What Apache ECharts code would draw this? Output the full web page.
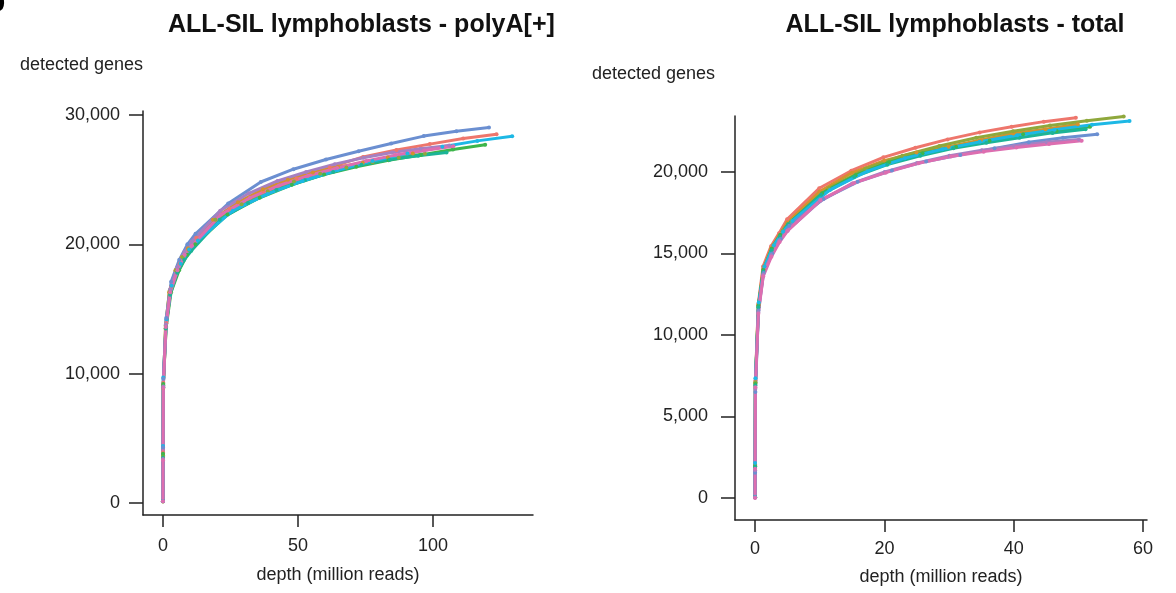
<!DOCTYPE html>
<html>
<head>
<meta charset="utf-8">
<script src="https://cdn.jsdelivr.net/npm/echarts@6/dist/echarts.min.js"></script>
<style>
    html, body { margin: 0; padding: 0; background: #fff; }
    #chart { width: 1176px; height: 593px; }
</style>
</head>
<body>
<div id="chart"></div>
<script>
// tick labels
var polyaXTicks = [0, 50, 100];
var polyaYTicks = [0, 10000, 20000, 30000];
var totalXTicks = [0, 20, 40, 60];
var totalYTicks = [0, 5000, 10000, 15000, 20000];

// sample colours (same order in both panels)
var sampleColors = ['#ee766c', '#d3912e', '#8fa83c', '#3db54b', '#1cb497', '#1db8e5', '#6b8fd1', '#a680c2', '#dd6eb0'];

// polyA[+] panel: depth (million reads) and detected genes per sample
var polyaRedDepth = [0.0001, 0.012, 0.12, 1.24, 3.09, 6.18, 9.26, 12.35, 24.7, 37.05, 49.4, 61.75, 74.1, 86.45, 98.8, 111.15, 123.5];
var polyaRedGenes = [150, 3900, 9300, 13900, 16700, 18500, 19600, 20500, 22750, 24100, 25100, 25950, 26760, 27300, 27750, 28190, 28520];
var polyaOrangeDepth = [0.0001, 0.009, 0.09, 0.93, 2.31, 4.63, 6.94, 9.25, 18.5, 27.75, 37, 46.25, 55.5, 64.75, 74, 83.25, 92.5];
var polyaOrangeGenes = [120, 3600, 8900, 13500, 16300, 18000, 19000, 19700, 21900, 23250, 24250, 25000, 25550, 25990, 26300, 26710, 27020];
var polyaOliveDepth = [0.0001, 0.0097, 0.097, 0.97, 2.43, 4.85, 7.28, 9.7, 19.4, 29.1, 38.8, 48.5, 58.2, 67.9, 77.6, 87.3, 97];
var polyaOliveGenes = [130, 3700, 9100, 13700, 16400, 18000, 19000, 19550, 21900, 23100, 24100, 24850, 25450, 25950, 26350, 26700, 27000];
var polyaGreenDepth = [0.0001, 0.012, 0.12, 1.19, 2.98, 5.97, 8.95, 11.93, 23.86, 35.79, 47.72, 59.65, 71.58, 83.51, 95.44, 107.37, 119.3];
var polyaGreenGenes = [140, 3800, 9200, 13600, 16300, 18000, 19200, 20000, 22300, 23600, 24600, 25400, 26000, 26500, 26900, 27330, 27700];
var polyaTealDepth = [0.0001, 0.0105, 0.105, 1.05, 2.63, 5.25, 7.88, 10.5, 21, 31.5, 42, 52.5, 63, 73.5, 84, 94.5, 105];
var polyaTealGenes = [130, 3500, 8950, 13500, 16100, 17800, 18800, 19500, 21900, 23200, 24200, 24950, 25600, 26150, 26550, 26850, 27100];
var polyaCyanDepth = [0.0001, 0.0129, 0.129, 1.29, 3.23, 6.47, 9.7, 12.93, 25.86, 38.79, 51.72, 64.65, 77.58, 90.51, 103.44, 116.37, 129.3];
var polyaCyanGenes = [160, 4400, 9700, 14200, 16800, 18500, 19600, 20300, 22600, 23900, 24900, 25750, 26450, 27030, 27540, 28000, 28360];
var polyaBlueDepth = [0.0001, 0.0121, 0.121, 1.21, 3.02, 6.04, 9.05, 12.07, 24.14, 36.21, 48.28, 60.35, 72.42, 84.49, 96.56, 108.63, 120.7];
var polyaBlueGenes = [160, 4300, 9600, 14300, 17100, 18800, 20000, 20820, 23150, 24820, 25810, 26560, 27200, 27800, 28370, 28750, 29040];
var polyaPurpleDepth = [0.0001, 0.0106, 0.106, 1.06, 2.65, 5.3, 7.95, 10.6, 21.2, 31.8, 42.4, 53, 63.6, 74.2, 84.8, 95.4, 106];
var polyaPurpleGenes = [140, 3400, 9000, 13800, 16500, 18200, 19400, 20200, 22600, 23950, 24900, 25600, 26200, 26700, 27100, 27400, 27650];
var polyaPinkDepth = [0.0001, 0.0108, 0.108, 1.08, 2.69, 5.38, 8.06, 10.75, 21.5, 32.25, 43, 53.75, 64.5, 75.25, 86, 96.75, 107.5];
var polyaPinkGenes = [130, 3300, 8900, 13600, 16300, 18000, 19200, 19900, 22300, 23600, 24550, 25300, 25900, 26450, 26900, 27250, 27590];

// total RNA panel
var totalRedDepth = [0.0005, 0.005, 0.05, 0.5, 1.24, 2.48, 3.72, 4.96, 9.92, 14.88, 19.84, 24.8, 29.76, 34.72, 39.68, 44.64, 49.6];
var totalRedGenes = [60, 2050, 7200, 11900, 14200, 15450, 16250, 17100, 19000, 20080, 20900, 21490, 22000, 22430, 22780, 23090, 23330];
var totalOrangeDepth = [0.0005, 0.005, 0.05, 0.5, 1.25, 2.5, 3.74, 4.99, 9.98, 14.97, 19.96, 24.95, 29.94, 34.93, 39.92, 44.91, 49.9];
var totalOrangeGenes = [50, 1950, 7050, 11800, 14000, 15300, 16100, 16900, 18800, 19950, 20700, 21200, 21550, 21960, 22370, 22620, 22930];
var totalOliveDepth = [0.0006, 0.0057, 0.057, 0.57, 1.43, 2.85, 4.28, 5.7, 11.4, 17.1, 22.8, 28.5, 34.2, 39.9, 45.6, 51.3, 57];
var totalOliveGenes = [60, 2000, 7100, 11900, 14200, 15500, 16400, 17000, 19000, 20200, 21000, 21600, 22100, 22500, 22850, 23150, 23400];
var totalGreenDepth = [0.0005, 0.0052, 0.052, 0.52, 1.3, 2.59, 3.89, 5.18, 10.36, 15.54, 20.72, 25.9, 31.08, 36.26, 41.44, 46.62, 51.8];
var totalGreenGenes = [50, 1950, 7000, 11800, 14000, 15300, 16150, 16800, 18700, 19800, 20600, 21150, 21550, 21920, 22310, 22520, 22780];
var totalTealDepth = [0.0005, 0.0051, 0.051, 0.51, 1.28, 2.56, 3.83, 5.11, 10.22, 15.33, 20.44, 25.55, 30.66, 35.77, 40.88, 45.99, 51.1];
var totalTealGenes = [40, 1900, 6900, 11700, 13900, 15200, 16050, 16800, 18600, 19700, 20450, 21000, 21450, 21800, 22100, 22400, 22620];
var totalCyanDepth = [0.0006, 0.0058, 0.058, 0.58, 1.45, 2.9, 4.34, 5.79, 11.58, 17.37, 23.16, 28.95, 34.74, 40.53, 46.32, 52.11, 57.9];
var totalCyanGenes = [70, 2150, 7350, 12000, 14200, 15500, 16350, 17000, 18900, 20050, 20850, 21400, 21850, 22250, 22600, 22900, 23130];
var totalBlueDepth = [0.0005, 0.0053, 0.053, 0.53, 1.32, 2.65, 3.97, 5.29, 10.58, 15.87, 21.16, 26.45, 31.74, 37.03, 42.32, 47.61, 52.9];
var totalBlueGenes = [30, 1550, 6500, 11500, 13800, 15000, 15900, 16700, 18350, 19400, 20100, 20650, 21050, 21450, 21830, 22100, 22310];
var totalPurpleDepth = [0.0005, 0.005, 0.05, 0.5, 1.25, 2.51, 3.76, 5.01, 10.02, 15.03, 20.04, 25.05, 30.06, 35.07, 40.08, 45.09, 50.1];
var totalPurpleGenes = [40, 1700, 6700, 11400, 13700, 14900, 15800, 16400, 18200, 19300, 20000, 20550, 21000, 21330, 21600, 21820, 22000];
var totalPinkDepth = [0.0005, 0.0051, 0.051, 0.51, 1.26, 2.53, 3.79, 5.05, 10.1, 15.15, 20.2, 25.25, 30.3, 35.35, 40.4, 45.45, 50.5];
var totalPinkGenes = [0, 1800, 6800, 11300, 13600, 14800, 15700, 16400, 18280, 19300, 19960, 20530, 20950, 21250, 21500, 21720, 21920];

var polyaSamples = [
    [polyaRedDepth, polyaRedGenes], [polyaOrangeDepth, polyaOrangeGenes], [polyaOliveDepth, polyaOliveGenes],
    [polyaGreenDepth, polyaGreenGenes], [polyaTealDepth, polyaTealGenes], [polyaCyanDepth, polyaCyanGenes],
    [polyaBlueDepth, polyaBlueGenes], [polyaPurpleDepth, polyaPurpleGenes], [polyaPinkDepth, polyaPinkGenes]
];
var totalSamples = [
    [totalRedDepth, totalRedGenes], [totalOrangeDepth, totalOrangeGenes], [totalOliveDepth, totalOliveGenes],
    [totalGreenDepth, totalGreenGenes], [totalTealDepth, totalTealGenes], [totalCyanDepth, totalCyanGenes],
    [totalBlueDepth, totalBlueGenes], [totalPurpleDepth, totalPurpleGenes], [totalPinkDepth, totalPinkGenes]
];

var fontFamily = '"Liberation Sans", Arial, sans-serif';
var axisColor = '#222';

function makeSeries(sample, idx, axisIndex) {
    var color = sampleColors[idx];
    return {
        type: 'line',
        xAxisIndex: axisIndex,
        yAxisIndex: axisIndex,
        data: sample[0].map(function (d, i) { return [d, sample[1][i]]; }),
        symbol: 'circle',
        symbolSize: 4,
        lineStyle: { width: 3, color: color },
        itemStyle: { color: color },
        emphasis: { disabled: true }
    };
}

function makeXAxis(gridIndex, min, max, ticks, margin, nameGap) {
    return {
        type: 'value', gridIndex: gridIndex, min: min, max: max,
        name: 'depth (million reads)', nameLocation: 'middle', nameGap: nameGap,
        nameTextStyle: { fontFamily: fontFamily, fontSize: 18, color: axisColor },
        splitLine: { show: false },
        axisLine: { onZero: false, lineStyle: { color: axisColor, width: 1.5 } },
        axisTick: { customValues: ticks, length: 12, lineStyle: { color: axisColor, width: 1.5 } },
        axisLabel: { customValues: ticks, margin: margin, fontFamily: fontFamily, fontSize: 18, color: axisColor }
    };
}

function makeYAxis(gridIndex, min, max, ticks, margin, nameGap, namePad) {
    return {
        type: 'value', gridIndex: gridIndex, min: min, max: max,
        name: 'detected genes', nameLocation: 'end', nameGap: nameGap,
        nameTextStyle: { fontFamily: fontFamily, fontSize: 18, color: axisColor, align: 'right', verticalAlign: 'middle', padding: [0, namePad, 0, 0] },
        splitLine: { show: false },
        axisLine: { onZero: false, lineStyle: { color: axisColor, width: 1.5 } },
        axisTick: { customValues: ticks, length: 14, lineStyle: { color: axisColor, width: 1.5 } },
        axisLabel: {
            customValues: ticks, margin: margin, fontFamily: fontFamily, fontSize: 18, color: axisColor,
            formatter: function (v) { return v.toLocaleString('en-US'); }
        }
    };
}

var chart = echarts.init(document.getElementById('chart'));

var series = [];
polyaSamples.forEach(function (s, i) { series.push(makeSeries(s, i, 0)); });
totalSamples.forEach(function (s, i) { series.push(makeSeries(s, i, 1)); });

chart.setOption({
    animation: false,
    backgroundColor: '#fff',
    title: [
        { text: 'ALL-SIL lymphoblasts - polyA[+]', left: 163, top: 8,
          textStyle: { fontFamily: fontFamily, fontSize: 25, fontWeight: 'bold', color: '#111' } },
        { text: 'ALL-SIL lymphoblasts - total', left: 950, top: 8, textAlign: 'center',
          textStyle: { fontFamily: fontFamily, fontSize: 25, fontWeight: 'bold', color: '#111' } }
    ],
    graphic: [
        { type: 'text', left: -13, top: -12, style: { text: 'b', fontFamily: fontFamily, fontSize: 30, fontWeight: 'bold', fill: '#000' } }
    ],
    grid: [
        { left: 143, right: 643, top: 111, bottom: 78 },
        { left: 735, right: 29, top: 116, bottom: 73 }
    ],
    xAxis: [
        makeXAxis(0, -7.4, 137, polyaXTicks, 22, 51),
        makeXAxis(1, -3.1, 60.6, totalXTicks, 20, 48)
    ],
    yAxis: [
        makeYAxis(0, -928, 30310, polyaYTicks, 23, 46, 0),
        makeYAxis(1, -1350, 23436, totalYTicks, 27, 42, 20)
    ],
    series: series
});
</script>
</body>
</html>
